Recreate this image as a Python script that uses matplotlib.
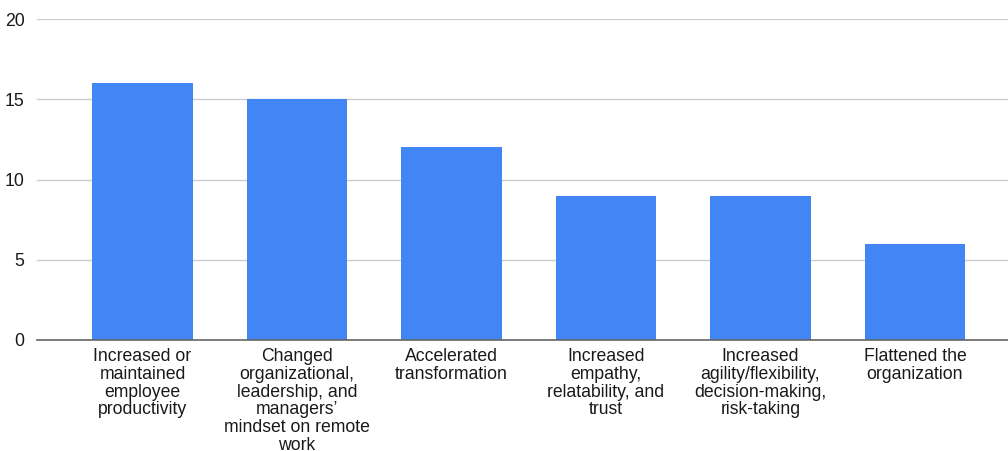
import matplotlib
matplotlib.use("Agg")
import matplotlib.pyplot as plt

categories = [
    "Increased or\nmaintained\nemployee\nproductivity",
    "Changed\norganizational,\nleadership, and\nmanagers\u2019\nmindset on remote\nwork",
    "Accelerated\ntransformation",
    "Increased\nempathy,\nrelatability, and\ntrust",
    "Increased\nagility/flexibility,\ndecision-making,\nrisk-taking",
    "Flattened the\norganization",
]
values = [16, 15, 12, 9, 9, 6]
yticks = [0, 5, 10, 15, 20]

plt.rcParams['font.family'] = ['Liberation Sans', 'DejaVu Sans']

fig = plt.figure(figsize=(10.08, 4.51), dpi=100)
ax = fig.add_axes([37/1008, 1-340/451, 1-37/1008, (340-19)/451])

x = list(range(len(categories)))
ax.bar(x, values, width=0.65, color="#4285F4", zorder=3)
ax.set_xlim(-0.683, 5.602)
ax.set_ylim(0, 20)
ax.set_yticks(yticks)
ax.set_yticklabels([str(v) for v in yticks], fontsize=12.7, color="#1a1a1a")
ax.set_xticks(x)
ax.set_xticklabels(categories, fontsize=12.7, color="#1a1a1a", linespacing=1.05, va="top")
ax.tick_params(axis="both", length=0)
ax.tick_params(axis="y", pad=9)
ax.tick_params(axis="x", pad=6)
ax.grid(axis="y", color="#cccccc", linewidth=1, zorder=0)
for s in ["top", "right", "left"]:
    ax.spines[s].set_visible(False)
ax.spines["bottom"].set_color("#666666")
ax.spines["bottom"].set_linewidth(1.2)
ax.spines["bottom"].set_zorder(4)

fig.savefig("out.png", dpi=100)
